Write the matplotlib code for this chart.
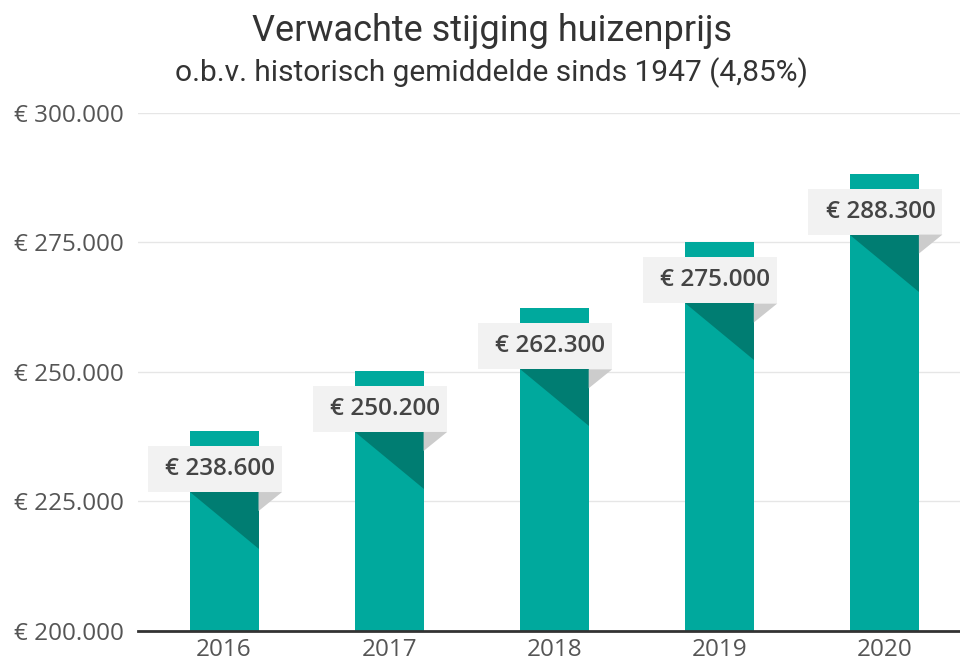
import matplotlib
matplotlib.use("Agg")
import matplotlib.pyplot as plt
from matplotlib.patches import Polygon

years = ["2016", "2017", "2018", "2019", "2020"]
prices = [238600, 250200, 262300, 275000, 288300]
yticks = [200000, 225000, 250000, 275000, 300000]

TEAL = "#00a99d"
DARK = "#007d72"
BOX = "#f2f2f2"
SHADOW = "#cccccc"
TXT = "#444444"

def euro(v):
    return "€ " + f"{v:,}".replace(",", ".")

W, H, DPI = 960, 663, 100
fig = plt.figure(figsize=(W / DPI, H / DPI), dpi=DPI)
ax = fig.add_axes([138 / W, 1 - 631 / H, (960 - 138) / W, (631 - 113) / H])

x = list(range(len(years)))
ax.bar(x, [p - yticks[0] for p in prices], bottom=yticks[0], width=0.418,
       color=TEAL, zorder=2)
ax.set_xlim(-0.521, 4.458)
ax.set_ylim(yticks[0], yticks[-1])

ax.set_yticks(yticks)
ax.set_yticklabels([euro(t) for t in yticks], fontfamily="Open Sans",
                   fontsize=17.5, color="#555555")
ax.set_xticks(x)
ax.set_xticklabels(years, fontfamily="Open Sans", fontsize=17.5, color="#555555")
ax.tick_params(axis="both", length=0)
ax.tick_params(axis="y", pad=10)
ax.tick_params(axis="x", pad=5)
ax.grid(axis="y", color="#e6e6e6", linewidth=1, zorder=0)
for s in ["top", "right", "left"]:
    ax.spines[s].set_visible(False)
ax.spines["bottom"].set_color("#333333")
ax.spines["bottom"].set_linewidth(2)
ax.spines["bottom"].set_zorder(5)

scale = DPI / 100.0
inv = ax.transData.inverted()

def pts(anchor, offs):
    ax_d = ax.transData.transform(anchor)
    return [inv.transform((ax_d[0] + dx * scale, ax_d[1] + dy * scale)) for dx, dy in offs]

hw = 34.5
for i, v in zip(x, prices):
    a = (i, v)
    box = pts(a, [(-76, -15), (58, -15), (58, -61), (-76, -61)])
    ax.add_patch(Polygon(box, closed=True, facecolor=BOX, edgecolor="none", zorder=3))
    ax.add_patch(Polygon(pts(a, [(-hw, -61), (hw, -61), (hw, -118)]), closed=True,
                         facecolor=DARK, edgecolor="none", zorder=3))
    ax.add_patch(Polygon(pts(a, [(hw, -61), (58, -61), (hw, -80)]), closed=True,
                         facecolor=SHADOW, edgecolor="none", zorder=3))
    tc = pts(a, [(-4, -38)])[0]
    ax.text(tc[0], tc[1], euro(v), ha="center", va="center", fontfamily="Open Sans",
            fontweight="semibold", fontsize=17.5, color=TXT, zorder=4)

fig.text(492 / W, 1 - 31 / H, "Verwachte stijging huizenprijs", ha="center", va="center",
         fontfamily="Roboto", fontsize=26, color="#333333")
fig.text(492 / W, 1 - 73 / H, "o.b.v. historisch gemiddelde sinds 1947 (4,85%)", ha="center",
         va="center", fontfamily="Roboto", fontsize=21.5, color="#333333")

fig.savefig("out.png", dpi=DPI, facecolor="white")
